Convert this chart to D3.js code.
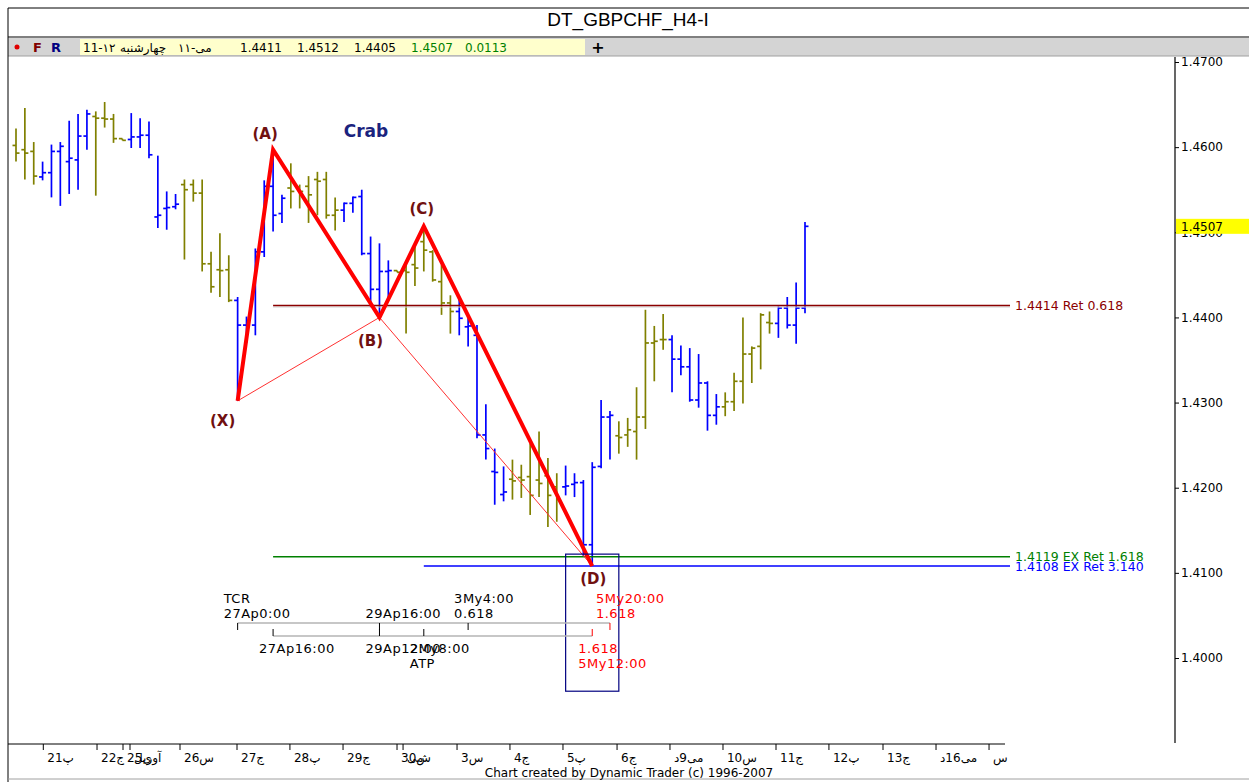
<!DOCTYPE html>
<html>
<head>
<meta charset="utf-8">
<script src="https://cdn.jsdelivr.net/npm/d3@7"></script>
<style>
  body { margin: 0; background: #fff; }
  svg text { font-family: "DejaVu Sans", Verdana, sans-serif; }
</style>
</head>
<body>
<div id="chart"></div>
<script>
// OHLC, 4h bars, GBPCHF
const opens = [
  1.4602,1.4597,1.4595,1.4565,1.4570,1.4595,1.4583,1.4585,1.4613,1.4636,
  1.4634,1.4633,1.4610,1.4609,1.4612,1.4614,1.4518,1.4528,1.4530,1.4556,
  1.4556,1.4546,1.4463,1.4456,1.4456,1.4420,1.4391,1.4391,1.4477,1.4554,
  1.4522,1.4552,1.4553,1.4554,1.4562,1.4562,1.4520,1.4526,1.4534,1.4542,
  1.4475,1.4433,1.4454,1.4455,1.4455,1.4462,1.4489,1.4477,1.4442,1.4417,
  1.4407,1.4389,1.4379,1.4262,1.4219,1.4192,1.4210,1.4212,1.4213,1.4209,
  1.4214,1.4201,1.4201,1.4204,1.4206,1.4133,1.4225,1.4283,1.4261,1.4262,
  1.4266,1.4283,1.4370,1.4374,1.4374,1.4351,1.4342,1.4303,1.4323,1.4285,
  1.4295,1.4301,1.4325,1.4357,1.4366,1.4394,1.4393,1.4411,1.4391,1.4411
];
const highs = [
  1.4622,1.4646,1.4606,1.4583,1.4603,1.4606,1.4631,1.4639,1.4644,1.4642,
  1.4653,1.4639,1.4610,1.4640,1.4634,1.4630,1.4590,1.4548,1.4545,1.4562,
  1.4562,1.4562,1.4477,1.4499,1.4473,1.4424,1.4401,1.4481,1.4561,1.4597,
  1.4544,1.4581,1.4556,1.4566,1.4571,1.4571,1.4541,1.4535,1.4542,1.4550,
  1.4495,1.4487,1.4467,1.4455,1.4464,1.4483,1.4507,1.4479,1.4462,1.4426,
  1.4424,1.4399,1.4391,1.4298,1.4246,1.4225,1.4233,1.4227,1.4252,1.4266,
  1.4235,1.4217,1.4226,1.4217,1.4209,1.4230,1.4303,1.4290,1.4278,1.4282,
  1.4318,1.4409,1.4390,1.4404,1.4379,1.4367,1.4364,1.4357,1.4325,1.4310,
  1.4312,1.4335,1.4400,1.4366,1.4405,1.4407,1.4413,1.4424,1.4441,1.4512
];
const lows = [
  1.4583,1.4562,1.4556,1.4561,1.4541,1.4531,1.4545,1.4550,1.4597,1.4543,
  1.4623,1.4605,1.4608,1.4599,1.4599,1.4587,1.4505,1.4503,1.4527,1.4468,
  1.4536,1.4454,1.4429,1.4424,1.4418,1.4302,1.4370,1.4379,1.4471,1.4501,
  1.4511,1.4528,1.4528,1.4511,1.4520,1.4516,1.4502,1.4512,1.4523,1.4473,
  1.4412,1.4400,1.4420,1.4453,1.4381,1.4437,1.4454,1.4442,1.4403,1.4381,
  1.4379,1.4366,1.4258,1.4233,1.4180,1.4184,1.4186,1.4188,1.4168,1.4189,
  1.4154,1.4160,1.4191,1.4189,1.4120,1.4108,1.4223,1.4233,1.4240,1.4248,
  1.4233,1.4269,1.4325,1.4362,1.4312,1.4332,1.4301,1.4294,1.4267,1.4274,
  1.4284,1.4290,1.4299,1.4323,1.4339,1.4381,1.4376,1.4387,1.4369,1.4405
];
const closes = [
  1.4593,1.4593,1.4566,1.4570,1.4595,1.4601,1.4587,1.4613,1.4639,1.4634,
  1.4633,1.4610,1.4608,1.4612,1.4614,1.4591,1.4520,1.4529,1.4533,1.4550,
  1.4546,1.4463,1.4436,1.4455,1.4420,1.4391,1.4392,1.4477,1.4554,1.4520,
  1.4540,1.4548,1.4548,1.4544,1.4560,1.4520,1.4526,1.4534,1.4541,1.4475,
  1.4433,1.4454,1.4455,1.4453,1.4453,1.4458,1.4479,1.4444,1.4417,1.4407,
  1.4399,1.4390,1.4262,1.4246,1.4218,1.4195,1.4208,1.4209,1.4191,1.4205,
  1.4191,1.4186,1.4202,1.4206,1.4133,1.4224,1.4283,1.4285,1.4259,1.4268,
  1.4283,1.4370,1.4372,1.4374,1.4351,1.4342,1.4303,1.4323,1.4285,1.4295,
  1.4301,1.4325,1.4357,1.4364,1.4403,1.4393,1.4411,1.4391,1.4411,1.4507
];
// bar colour alternates per trading day: o = olive, b = blue
const dayColor = (
  "ooo" + "bbbbbb" + "oooo" + "bbbbbb" + "oooooo" + "bbbbbb" + "oooooo" + "bbbbbb" +
  "ooooooo" + "bbbbbb" + "oooooo" + "bbbbbb" + "oooooo" + "bbbbbb" + "oooooo" + "bbbb"
).split("");

// Crab pattern points
const pivotNames = ["X", "A", "B", "C", "D"];
const pivotIdx   = [25, 29, 41, 46, 65];
const pivotPrice = [1.4302, 1.4597, 1.4400, 1.4507, 1.4108];

// horizontal projection levels
const levelPrices = [1.4414, 1.4119, 1.4108];
const levelLabels = ["1.4414 Ret 0.618", "1.4119 EX Ret 1.618", "1.4108 EX Ret 3.140"];
const levelStart  = [29, 29, 46];

// y axis ticks
const priceTicks = [1.47, 1.46, 1.45, 1.44, 1.43, 1.42, 1.41, 1.40];

// date axis (positions in bar units)
const dayTicks = [3.08, 9.14, 12.07, 12.86, 18.5, 24.93, 30.9, 36.89, 42.98, 43.66, 49.75,
                  55.72, 61.7, 67.8, 73.77, 79.75, 85.73, 91.7, 97.8, 103.78, 109.76];
const dayLabels = ["21پ", "22ج", "ی25", "آوریل", "26س", "27ج", "28پ", "29ج", "ش30", "می", "3س",
                   "4ج", "5پ", "6ج", "می9د", "10س", "11ج", "12پ", "13ج", "می16د", "س"];

// time cycle markers
const timeTop = [
  {i: 25, l1: "TCR", l2: "27Ap0:00", red: false},
  {i: 41, l1: "", l2: "29Ap16:00", red: false},
  {i: 51, l1: "3My4:00", l2: "0.618", red: false},
  {i: 67, l1: "5My20:00", l2: "1.618", red: true}
];
const timeBottom = [
  {i: 29, l1: "27Ap16:00", l2: "", red: false},
  {i: 41, l1: "29Ap12:00", l2: "", red: false},
  {i: 46, l1: "2My8:00", l2: "ATP", red: false},
  {i: 65, l1: "1.618", l2: "5My12:00", red: true}
];

const W = 1249, H = 782;
const svg = d3.select("#chart").append("svg")
  .attr("width", W).attr("height", H);

svg.append("rect").attr("width", W).attr("height", H).attr("fill", "#fff");

const x = d3.scaleLinear().domain([0, 89]).range([16, 805]);
const y = d3.scaleLinear().domain([1.40, 1.47]).range([658, 62]);

// ---- window chrome ----
svg.append("line").attr("x1", 8).attr("x2", W).attr("y1", 8).attr("y2", 8).attr("stroke", "#000");
svg.append("line").attr("x1", 8).attr("x2", W).attr("y1", 37).attr("y2", 37).attr("stroke", "#000");
svg.append("text").attr("x", 628).attr("y", 26).attr("text-anchor", "middle")
  .style("font-family", "'Liberation Sans', Arial, sans-serif").style("font-size", "19px")
  .text("DT_GBPCHF_H4-I");

svg.append("rect").attr("x", 8).attr("y", 38).attr("width", W - 8).attr("height", 18).attr("fill", "#d4d4d4");
svg.append("line").attr("x1", 8).attr("x2", W).attr("y1", 56).attr("y2", 56).attr("stroke", "#a0a0a0");
svg.append("circle").attr("cx", 17).attr("cy", 47).attr("r", 2.5).attr("fill", "#e00000");
svg.append("text").attr("x", 33).attr("y", 52).attr("fill", "#800000").style("font-weight", "bold").style("font-size", "13px").text("F");
svg.append("text").attr("x", 51).attr("y", 52).attr("fill", "#000080").style("font-weight", "bold").style("font-size", "13px").text("R");
svg.append("rect").attr("x", 80).attr("y", 39).attr("width", 505).attr("height", 16).attr("fill", "#ffffcc");
const info = [
  {x: 83, t: "11-۱۲", c: "#000"}, {x: 120, t: "چهارشنبه", c: "#000"}, {x: 178, t: "می-۱۱", c: "#000"},
  {x: 240, t: "1.4411", c: "#000"}, {x: 297, t: "1.4512", c: "#000"}, {x: 354, t: "1.4405", c: "#000"},
  {x: 411, t: "1.4507", c: "#008000"}, {x: 465, t: "0.0113", c: "#008000"}
];
svg.selectAll("text.info").data(info).join("text").attr("class", "info")
  .attr("x", d => d.x).attr("y", 52).attr("fill", d => d.c).style("font-size", "12px").text(d => d.t);
svg.append("text").attr("x", 598).attr("y", 53).attr("text-anchor", "middle")
  .style("font-weight", "bold").style("font-size", "16px").text("+");

// frame lines
svg.append("line").attr("x1", 8).attr("x2", 8).attr("y1", 8).attr("y2", H).attr("stroke", "#000");
svg.append("line").attr("x1", 8).attr("x2", W).attr("y1", 779).attr("y2", 779).attr("stroke", "#a0a0a0");

// ---- price axis ----
svg.append("line").attr("x1", 1175).attr("x2", 1175).attr("y1", 57).attr("y2", 743)
  .attr("stroke", "#000").attr("stroke-width", 1.2);
const yAxis = svg.append("g").attr("transform", "translate(1175,0)")
  .call(d3.axisRight(y).tickValues(priceTicks).tickFormat(d3.format(".4f")).tickSize(4).tickPadding(2));
yAxis.select(".domain").remove();
yAxis.selectAll("text").style("font-size", "12px").style("font-family", "'DejaVu Sans', sans-serif").attr("fill", "#000");

// last price marker
const last = closes[closes.length - 1];
svg.append("rect").attr("x", 1176).attr("y", y(last) - 7.5).attr("width", W - 1176).attr("height", 15).attr("fill", "#ffff00");
svg.append("text").attr("x", 1181).attr("y", y(last)).attr("dy", "0.35em").style("font-size", "12px").text(last.toFixed(4));

// ---- date axis ----
svg.append("line").attr("x1", 8).attr("x2", 1005).attr("y1", 744).attr("y2", 744).attr("stroke", "#000");
const xa = svg.append("g");
xa.selectAll("line").data(dayTicks).join("line")
  .attr("x1", d => x(d)).attr("x2", d => x(d)).attr("y1", 744).attr("y2", 750).attr("stroke", "#000");
xa.selectAll("text").data(dayTicks).join("text")
  .attr("x", d => x(d) + 4).attr("y", 762).style("font-size", "12px")
  .text((d, i) => dayLabels[i]);

svg.append("text").attr("x", 629).attr("y", 777).attr("text-anchor", "middle").style("font-size", "12px")
  .text("Chart created by Dynamic Trader  (c) 1996-2007");

// ---- OHLC bars ----
const bars = d3.range(opens.length).map(i => ({i, o: opens[i], h: highs[i], l: lows[i], c: closes[i], col: dayColor[i] === "b" ? "#0000ff" : "#808000"}));
const bg = svg.append("g").attr("stroke-width", 1.7);
bg.selectAll("line.hl").data(bars).join("line").attr("class", "hl")
  .attr("x1", d => x(d.i)).attr("x2", d => x(d.i))
  .attr("y1", d => y(d.h)).attr("y2", d => y(d.l)).attr("stroke", d => d.col);
bg.selectAll("line.op").data(bars).join("line").attr("class", "op")
  .attr("x1", d => x(d.i) - 3.5).attr("x2", d => x(d.i))
  .attr("y1", d => y(d.o)).attr("y2", d => y(d.o)).attr("stroke", d => d.col);
bg.selectAll("line.cl").data(bars).join("line").attr("class", "cl")
  .attr("x1", d => x(d.i)).attr("x2", d => x(d.i) + 3.5)
  .attr("y1", d => y(d.c)).attr("y2", d => y(d.c)).attr("stroke", d => d.col);

// ---- levels ----
const levelColors = ["#8b0000", "#008000", "#0000ff"];
levelPrices.forEach((p, k) => {
  if (k === 0) {
    svg.append("line").attr("x1", x(levelStart[k])).attr("x2", 1010)
      .attr("y1", y(p) + 1.5).attr("y2", y(p) + 1.5).attr("stroke", "#d0d0d0").attr("stroke-width", 1);
  }
  svg.append("line").attr("x1", x(levelStart[k])).attr("x2", 1010)
    .attr("y1", y(p)).attr("y2", y(p)).attr("stroke", levelColors[k]).attr("stroke-width", 1.4);
  svg.append("text").attr("x", 1015).attr("y", y(p)).attr("dy", "0.38em")
    .attr("fill", levelColors[k]).style("font-size", "12.5px").text(levelLabels[k]);
});

// ---- crab pattern ----
const pts = pivotIdx.map((d, k) => [x(d), y(pivotPrice[k])]);
svg.append("path").attr("d", d3.line()([pts[0], pts[2], pts[4]]))
  .attr("fill", "none").attr("stroke", "#ff3030").attr("stroke-width", 1);
svg.append("path").attr("d", d3.line()(pts))
  .attr("fill", "none").attr("stroke", "#ff0000").attr("stroke-width", 4).attr("stroke-linejoin", "miter");

const labelOff = [[-15, 20], [-8, -16], [-9, 23], [-2, -18], [1, 13]];
svg.selectAll("text.piv").data(pivotNames).join("text").attr("class", "piv")
  .attr("x", (d, k) => pts[k][0] + labelOff[k][0]).attr("y", (d, k) => pts[k][1] + labelOff[k][1])
  .attr("dy", "0.36em").attr("text-anchor", "middle")
  .attr("fill", "#701010").style("font-weight", "bold").style("font-size", "15px")
  .text(d => "(" + d + ")");
svg.append("text").attr("x", 366).attr("y", 137).attr("text-anchor", "middle")
  .attr("fill", "#1a237e").style("font-weight", "bold").style("font-size", "17px").text("Crab");

// box around D
svg.append("rect").attr("x", x(62)).attr("y", y(1.4122))
  .attr("width", x(68) - x(62)).attr("height", y(1.3961) - y(1.4122))
  .attr("fill", "none").attr("stroke", "#000080").attr("stroke-width", 1.2);

// ---- time cycles ----
const tg = svg.append("g");
tg.append("line").attr("x1", x(25)).attr("x2", x(67)).attr("y1", 623).attr("y2", 623).attr("stroke", "#b4b4b4").attr("stroke-width", 1.5);
tg.append("line").attr("x1", x(29)).attr("x2", x(65)).attr("y1", 636).attr("y2", 636).attr("stroke", "#b4b4b4").attr("stroke-width", 1.5);
timeTop.forEach(d => {
  const c = d.red ? "#ff0000" : "#000";
  tg.append("line").attr("x1", x(d.i)).attr("x2", x(d.i)).attr("y1", 623).attr("y2", 630).attr("stroke", c);
  tg.append("text").attr("x", x(d.i) - 14).attr("y", 603).attr("fill", c).style("font-size", "13px").style("letter-spacing", "0.5px").text(d.l1);
  tg.append("text").attr("x", x(d.i) - 14).attr("y", 618).attr("fill", c).style("font-size", "13px").style("letter-spacing", "0.5px").text(d.l2);
});
timeBottom.forEach(d => {
  const c = d.red ? "#ff0000" : "#000";
  tg.append("line").attr("x1", x(d.i)).attr("x2", x(d.i)).attr("y1", 629).attr("y2", 636).attr("stroke", c);
  tg.append("text").attr("x", x(d.i) - 14).attr("y", 653).attr("fill", c).style("font-size", "13px").style("letter-spacing", "0.5px").text(d.l1);
  tg.append("text").attr("x", x(d.i) - 14).attr("y", 668).attr("fill", c).style("font-size", "13px").style("letter-spacing", "0.5px").text(d.l2);
});
</script>
</body>
</html>
